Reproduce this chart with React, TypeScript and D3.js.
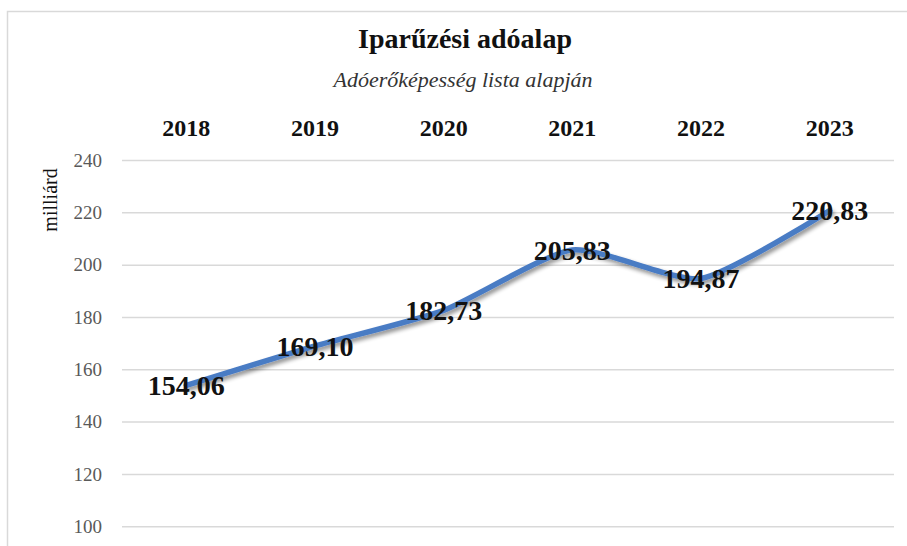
import React from 'react';
import * as d3 from 'd3';

// chart data
const years = ['2018', '2019', '2020', '2021', '2022', '2023'];
const values = [154.06, 169.1, 182.73, 205.83, 194.87, 220.83];
const yTicks = [100, 120, 140, 160, 180, 200, 220, 240];
const title = 'Iparűzési adóalap';
const subtitle = 'Adóerőképesség lista alapján';
const yLabel = 'milliárd';

const width = 907;
const height = 546;
const serif = '"Liberation Serif", "Times New Roman", serif';

export default function App() {
  const x = d3.scaleBand<string>().domain(years).range([122, 894]);
  const y = d3.scaleLinear().domain([100, 240]).range([526.7, 160.5]);

  const pts: [number, number][] = values.map((v, i) => [x(years[i])! + x.bandwidth() / 2, y(v)]);
  const line = d3.line().curve(d3.curveCardinal.tension(0.4));
  const fmt = (v: number) => v.toFixed(2).replace('.', ',');

  return (
    <div style={{ position: 'absolute', left: 0, top: 0 }}>
      <svg width={width} height={height} style={{ display: 'block', background: '#fff' }}>
        <defs>
          <filter id="shadow" x="-10%" y="-10%" width="120%" height="130%">
            <feGaussianBlur in="SourceAlpha" stdDeviation="2" />
            <feOffset dx="2" dy="3" result="off" />
            <feComponentTransfer>
              <feFuncA type="linear" slope="0.45" />
            </feComponentTransfer>
            <feMerge>
              <feMergeNode />
              <feMergeNode in="SourceGraphic" />
            </feMerge>
          </filter>
        </defs>
        <rect x={7.5} y={11.5} width={920} height={560} fill="#fff" stroke="#d9d9d9" strokeWidth={1.5} />

        <text x={465} y={48} textAnchor="middle" fontFamily={serif} fontWeight="bold" fontSize={28} fill="#111">
          {title}
        </text>
        <text x={463} y={87} textAnchor="middle" fontFamily={serif} fontStyle="italic" fontSize={22} fill="#333">
          {subtitle}
        </text>

        {years.map(yr => (
          <text key={yr} x={x(yr)! + x.bandwidth() / 2} y={136} textAnchor="middle" fontFamily={serif}
            fontWeight="bold" fontSize={24} fill="#111">
            {yr}
          </text>
        ))}

        {yTicks.map(t => (
          <g key={t}>
            <line x1={122} x2={894} y1={y(t)} y2={y(t)} stroke="#d9d9d9" strokeWidth={1.5} />
            <text x={102} y={y(t)} dy="0.33em" textAnchor="end" fontFamily={serif} fontSize={19} fill="#595959">
              {t}
            </text>
          </g>
        ))}

        <text transform={`translate(57,200) rotate(-90)`} textAnchor="middle" fontFamily={serif} fontSize={20} fill="#111">
          {yLabel}
        </text>

        <path d={line(pts) || ''} fill="none" stroke="#4a7bc4" strokeWidth={5.5} strokeLinecap="round"
          strokeLinejoin="round" filter="url(#shadow)" />

        {values.map((v, i) => (
          <text key={i} x={pts[i][0]} y={pts[i][1]} dy="0.35em" textAnchor="middle" fontFamily={serif}
            fontWeight="bold" fontSize={28} fill="#111">
            {fmt(v)}
          </text>
        ))}
      </svg>
    </div>
  );
}
